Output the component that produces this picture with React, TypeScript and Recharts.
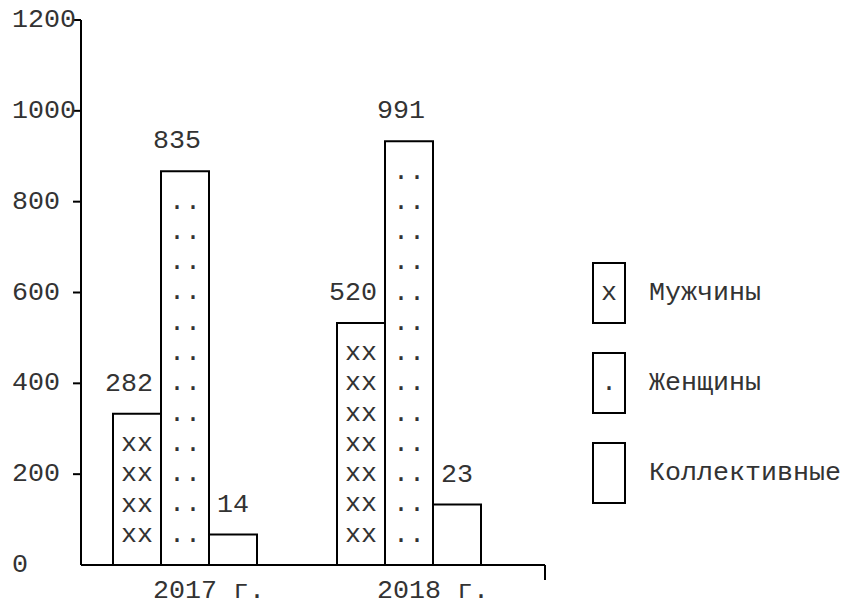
import React from 'react';
import { Bar, BarChart, LabelList, Legend, XAxis, YAxis, usePlotArea } from 'recharts';

const years = ['2017 г.', '2018 г.'];
const menValues = [282, 520];
const womenValues = [835, 991];
const collectiveValues = [14, 23];
// bar heights as drawn in the source (rounded up to whole text rows)
const menBars = [333, 533];
const womenBars = [867, 933];
const collectiveBars = [67, 133];
const yTicks = [0, 200, 400, 600, 800, 1000, 1200];

const FONT = '"Liberation Mono", "Courier New", monospace';
const FS = 26.67;
const INK = '#333';
// one text row of the pseudo-graphic, in axis units
const ROW = 1200 / 18;

const data = years.map((year, i) => ({
  year,
  men: menBars[i],
  women: womenBars[i],
  collective: collectiveBars[i],
  menLabel: menValues[i],
  womenLabel: womenValues[i],
  collectiveLabel: collectiveValues[i],
}));

const seriesOrder = ['men', 'women', 'collective'];
const fills: Record<string, string> = { men: 'xx', women: '..', collective: '' };
const marks: Record<string, string> = { men: 'x', women: '.', collective: '' };

const makeShape = (key: string) => (props: any) => {
  const { x, y, width, height, payload } = props;
  const rows = Math.max(1, Math.round(payload[key] / ROW));
  const rowPx = height / rows;
  const bottom = y + height;
  return (
    <g>
      <path
        d={`M${x},${bottom} V${y} H${x + width} V${bottom}`}
        fill="#fff"
        stroke="#000"
        strokeWidth={2}
      />
      {fills[key] &&
        Array.from({ length: rows - 1 }, (_, k) => (
          <text
            key={k}
            x={x + width / 2}
            y={y + rowPx * (k + 1)}
            textAnchor="middle"
            dominantBaseline="central"
            fontFamily={FONT}
            fontSize={FS}
            fill={INK}
          >
            {fills[key]}
          </text>
        ))}
    </g>
  );
};

const ValueLabel = (props: any) => {
  const { x, y, width, value } = props;
  const s = String(value);
  // text sits on a character grid, odd lengths shift half a cell left
  const dx = s.length % 2 === 1 ? -8 : 0;
  return (
    <text
      x={x + width / 2 + dx}
      y={y - 30}
      textAnchor="middle"
      dominantBaseline="central"
      fontFamily={FONT}
      fontSize={FS}
      fill={INK}
    >
      {s}
    </text>
  );
};

const YTick = ({ x, y, payload }: any) => (
  <g>
    {payload.value !== 0 && (
      <line x1={x - 8} x2={x} y1={y} y2={y} stroke="#000" strokeWidth={2} />
    )}
    <text x={12} y={y} dominantBaseline="central" fontFamily={FONT} fontSize={FS} fill={INK}>
      {payload.value}
    </text>
  </g>
);

const XTick = ({ x, y, payload }: any) => (
  <text x={x - 32} y={y + 26} dominantBaseline="central" fontFamily={FONT} fontSize={FS} fill={INK}>
    {payload.value}
  </text>
);

const AxisEnd = () => {
  const area = usePlotArea();
  if (!area) return null;
  const x = area.x + area.width;
  const y = area.y + area.height;
  return <line x1={x} x2={x} y1={y} y2={y + 15} stroke="#000" strokeWidth={2} />;
};

const LegendBoxes = ({ payload }: any) => {
  const items = [...(payload || [])].sort(
    (a: any, b: any) => seriesOrder.indexOf(a.dataKey) - seriesOrder.indexOf(b.dataKey),
  );
  return (
    <div style={{ fontFamily: FONT, fontSize: FS, color: INK }}>
      {items.map((entry: any) => (
        <div
          key={entry.dataKey}
          style={{ display: 'flex', alignItems: 'center', height: 62, marginBottom: 28 }}
        >
          <div
            style={{
              width: 34,
              height: 62,
              border: '2px solid #000',
              boxSizing: 'border-box',
              display: 'flex',
              alignItems: 'center',
              justifyContent: 'center',
            }}
          >
            {marks[entry.dataKey]}
          </div>
          <span style={{ marginLeft: 23, whiteSpace: 'nowrap' }}>{entry.value}</span>
        </div>
      ))}
    </div>
  );
};

export default function App() {
  return (
    <div style={{ position: 'absolute', left: 0, top: 0, width: 842, height: 607, background: '#fff' }}>
      <BarChart
        width={842}
        height={607}
        data={data}
        margin={{ top: 20, right: 297, bottom: 0, left: 0 }}
        barGap={0}
        barCategoryGap={40}
      >
        <XAxis
          dataKey="year"
          height={42}
          padding={{ left: -8, right: 24 }}
          axisLine={{ stroke: '#000', strokeWidth: 2 }}
          tickLine={false}
          tickSize={0}
          tickMargin={0}
          tick={<XTick />}
          interval={0}
        />
        <YAxis
          width={81}
          domain={[0, 1200]}
          ticks={yTicks}
          axisLine={{ stroke: '#000', strokeWidth: 2 }}
          tickLine={false}
          tickSize={0}
          tickMargin={0}
          tick={<YTick />}
          interval={0}
        />
        <Legend
          layout="horizontal"
          verticalAlign="middle"
          align="center"
          itemSorter={null}
          content={<LegendBoxes />}
          wrapperStyle={{ position: 'absolute', left: 592, top: 262, width: 'auto' }}
        />
        <Bar dataKey="men" name="Мужчины" shape={makeShape('men')} isAnimationActive={false}>
          <LabelList dataKey="menLabel" content={<ValueLabel />} />
        </Bar>
        <Bar dataKey="women" name="Женщины" shape={makeShape('women')} isAnimationActive={false}>
          <LabelList dataKey="womenLabel" content={<ValueLabel />} />
        </Bar>
        <Bar
          dataKey="collective"
          name="Коллективные"
          shape={makeShape('collective')}
          isAnimationActive={false}
        >
          <LabelList dataKey="collectiveLabel" content={<ValueLabel />} />
        </Bar>
        <AxisEnd />
      </BarChart>
    </div>
  );
}
